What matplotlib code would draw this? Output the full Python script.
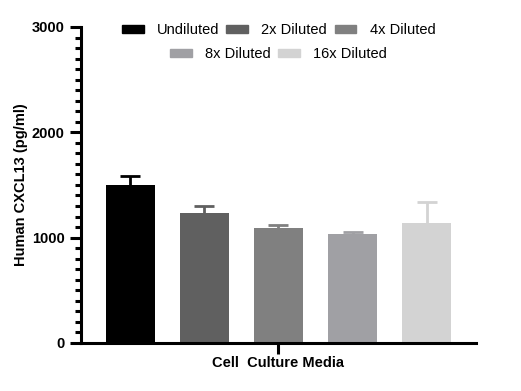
import numpy as np
import matplotlib.pyplot as plt
from matplotlib.patches import Patch
from matplotlib.ticker import MultipleLocator

plt.rcParams['font.family'] = ['Liberation Sans', 'DejaVu Sans']

groups = ['Undiluted', '2x Diluted', '4x Diluted', '8x Diluted', '16x Diluted']
means = [1500, 1235, 1092, 1035, 1140]
errs = [86, 69, 26, 22, 196]
colors = ['#000000', '#606060', '#808080', '#a0a0a4', '#d3d3d3']

fig = plt.figure(figsize=(5.21, 3.91), dpi=100)
ax = fig.add_axes([0.155, 0.123, 0.759, 0.808])

x = np.arange(len(groups))
for i in range(len(groups)):
    ax.bar(x[i], means[i], width=0.66, color=colors[i], zorder=2)
    eb = ax.errorbar(x[i], means[i], yerr=[[0], [errs[i]]], color=colors[i],
                     capsize=7, capthick=2, elinewidth=2, zorder=3)
    eb[1][0].set_visible(False)  # no cap at the bar top

ax.set_xlim(-0.67, 4.67)
ax.set_ylim(0, 3000)
ax.yaxis.set_major_locator(MultipleLocator(1000))
ax.yaxis.set_minor_locator(MultipleLocator(100))
ax.set_xticks([2])
ax.set_xticklabels([''])
ax.set_xlabel('Cell  Culture Media', fontsize=10.5, fontweight='bold', labelpad=-2)
ax.set_ylabel('Human CXCL13 (pg/ml)', fontsize=10.5, fontweight='bold', labelpad=3)

for s in ['top', 'right']:
    ax.spines[s].set_visible(False)
for s in ['left', 'bottom']:
    ax.spines[s].set_linewidth(2.2)
ax.tick_params(axis='both', which='major', length=8, width=2.2, labelsize=10.5)
ax.tick_params(axis='y', which='minor', length=4, width=2.2)
for lab in ax.get_yticklabels():
    lab.set_fontweight('bold')

h = [Patch(color=c) for c in colors]
leg1 = ax.legend(h[:3], groups[:3], loc='center', bbox_to_anchor=(0.5, 0.99),
                 ncol=3, frameon=False, fontsize=10.5, handlelength=1.5,
                 handleheight=0.45, columnspacing=0.5, handletextpad=0.9)
ax.add_artist(leg1)
ax.legend(h[3:], groups[3:], loc='center', bbox_to_anchor=(0.5, 0.915),
          ncol=2, frameon=False, fontsize=10.5, handlelength=1.5,
          handleheight=0.45, columnspacing=0.5, handletextpad=0.9)

plt.savefig('out.png')
